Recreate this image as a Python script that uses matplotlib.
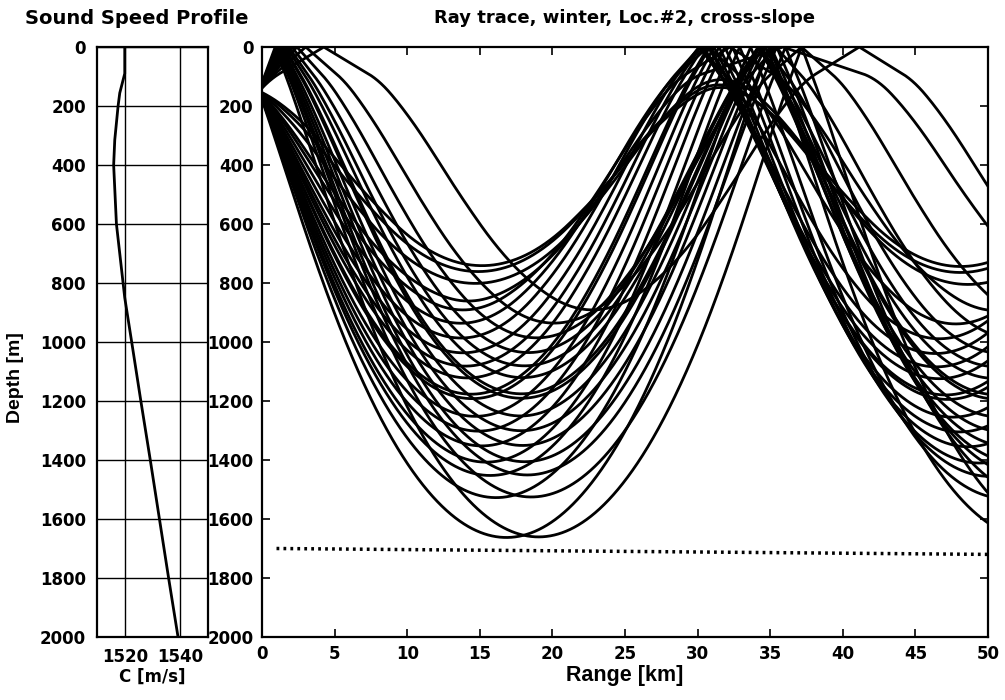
import matplotlib.pyplot as plt
import numpy as np


# Perfil de velocidad del sonido
SSP_DEPTH = [0, 90, 156, 200, 315, 400, 600, 800, 850,
             1000, 1200, 1400, 1600, 1800, 2000]
SSP_SPEED = [1520.0, 1520.0, 1518.2, 1517.6, 1516.4, 1516.0, 1517.0, 1519.4, 1520.0,
             1522.5, 1525.8, 1529.2, 1532.5, 1535.8, 1539.2]

# Fuente y profundidades de giro inferiores de los rayos (m)
SOURCE_RANGE = -0.2
SOURCE_DEPTH = 150.0
DOWN_TURN_DEPTHS = [740, 760, 800, 860, 890, 935, 985, 1035, 1080, 1120,
                    1175, 1190, 1250, 1300, 1350, 1405, 1450, 1525, 1660]
UP_TURN_DEPTHS = [890, 935, 985, 1035, 1080, 1120, 1175, 1190, 1250,
                  1300, 1350, 1405, 1450, 1525, 1660]

# Fondo (línea punteada)
BOTTOM_RANGE = [1.0, 50.0]
BOTTOM_DEPTH = [1700.0, 1720.0]

RANGE_TICKS = [0, 5, 10, 15, 20, 25, 30, 35, 40, 45, 50]
DEPTH_TICKS = [0, 200, 400, 600, 800, 1000, 1200, 1400, 1600, 1800, 2000]
C_TICKS = [1520, 1540]

WIDE = "DejaVu Sans"
NARROW = ["Liberation Sans Narrow", "Liberation Sans"]


def trace_rays(down_turns, up_turns, z0, r0, r_max=50.0, ds=10.0):
    """Trazado de rayos simple (Snell) con reflexión en superficie."""
    zg = np.arange(0.0, 2001.0)
    cg = np.interp(zg, SSP_DEPTH, SSP_SPEED)
    gg = np.gradient(cg, zg)

    c0 = np.interp(z0, zg, cg)
    th_down = np.arccos(c0 / np.interp(down_turns, zg, cg))
    th_up = -np.arccos(c0 / np.interp(up_turns, zg, cg))
    theta = np.concatenate([th_down, th_up])

    xi = np.cos(theta) / c0
    zeta = np.sin(theta) / c0
    r = np.full_like(theta, r0 * 1000)
    z = np.full_like(theta, z0)

    rs = [r.copy()]
    zs = [z.copy()]
    while r.min() < r_max * 1000 + 200:
        c = np.interp(z, zg, cg)
        g = np.interp(z, zg, gg)
        r = r + c * xi * ds
        z = z + c * zeta * ds
        zeta = zeta - g / c**2 * ds
        up = z < 0
        z[up] = -z[up]
        zeta[up] = -zeta[up]
        rs.append(r.copy())
        zs.append(z.copy())

    return np.array(rs) / 1000, np.array(zs)


ray_r, ray_z = trace_rays(DOWN_TURN_DEPTHS, UP_TURN_DEPTHS,
                          SOURCE_DEPTH, SOURCE_RANGE)


# ============================================================
# Figura
# ============================================================

fig = plt.figure(figsize=(10.05, 7.0), dpi=100)

ax1 = fig.add_axes([97 / 1005, 1 - 637 / 700, 111 / 1005, 590 / 700])
ax2 = fig.add_axes([262 / 1005, 1 - 637 / 700, 726 / 1005, 590 / 700])

# Perfil de velocidad
ax1.plot(SSP_SPEED, SSP_DEPTH, color="black", lw=2.0)
ax1.set_xlim(1510, 1550)
ax1.set_ylim(2000, 0)
ax1.set_xticks(C_TICKS)
ax1.set_yticks(DEPTH_TICKS)
ax1.grid(True, color="black", lw=1.0)
ax1.tick_params(direction="in", length=0, pad=8)
ax1.set_xlabel("C [m/s]", family=WIDE, weight="bold", size=12, labelpad=1)
ax1.set_ylabel("Depth [m]", family=NARROW, weight="bold", size=14)
ax1.yaxis.set_label_coords(-0.66, 0.44)

# Trazado de rayos
ax2.plot(ray_r, ray_z, color="black", lw=2.0)
ax2.plot(BOTTOM_RANGE, BOTTOM_DEPTH, color="black", lw=2.5,
         linestyle=(0, (0.8, 1.2)))
ax2.set_xlim(0, 50)
ax2.set_ylim(2000, 0)
ax2.set_xticks(RANGE_TICKS)
ax2.set_yticks(DEPTH_TICKS)
ax2.tick_params(direction="in", length=6, width=1.2,
                top=True, right=True, pad=6)
ax2.set_xlabel("Range [km]", family=NARROW, weight="bold", size=15.5,
               labelpad=1)

for ax in (ax1, ax2):
    for lab in ax.get_xticklabels() + ax.get_yticklabels():
        lab.set_family(WIDE)
        lab.set_fontweight("bold")
        lab.set_fontsize(12)
    for sp in ax.spines.values():
        sp.set_linewidth(1.6)

fig.text(137 / 1005, 1 - 18 / 700, "Sound Speed Profile", ha="center",
         va="center", family=WIDE, weight="bold", size=14)
fig.text(625 / 1005, 1 - 18 / 700, "Ray trace, winter, Loc.#2, cross-slope",
         ha="center", va="center", family=WIDE, weight="bold", size=13)

fig.savefig("out.png", dpi=100)
